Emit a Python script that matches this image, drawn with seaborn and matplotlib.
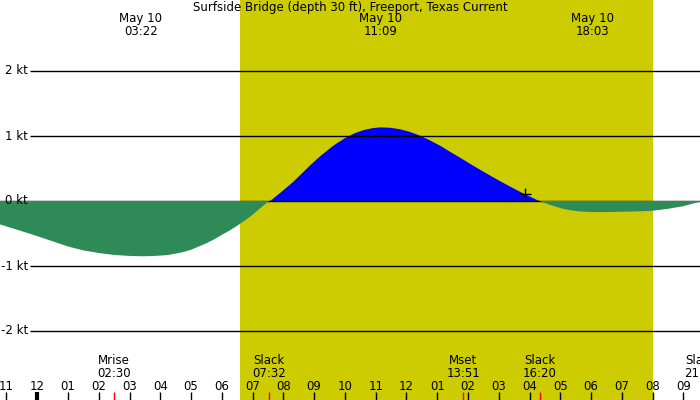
import numpy as np
import pandas as pd
import matplotlib
matplotlib.use('Agg')
import matplotlib.pyplot as plt
import matplotlib.transforms as mtransforms
import seaborn as sns

# 시간(시) / 유속(kt) - 그림에서 읽은 값
hours = [-1.21, -0.6, 0.0, 0.5, 1.0, 1.5, 2.0, 2.5, 3.0, 3.37, 3.7, 4.0, 4.25, 4.5, 4.75,
         5.0, 5.25, 5.5, 5.75, 6.0, 6.25, 6.5, 6.75, 7.0, 7.25, 7.53, 7.8, 8.0, 8.3, 8.54,
         8.86, 9.19, 9.61, 10.0, 10.3, 10.6, 10.9, 11.14, 11.45, 11.79, 12.1, 12.44, 12.75,
         13.09, 13.4, 13.74, 14.05, 14.39, 14.7, 15.0, 15.45, 15.84, 16.33, 16.6, 16.8,
         17.05, 17.3, 17.6, 18.05, 18.5, 19.0, 19.5, 20.0, 20.5, 21.0, 21.54]
knots = [-0.36, -0.45, -0.54, -0.62, -0.70, -0.76, -0.80, -0.83, -0.845, -0.85, -0.848,
         -0.84, -0.83, -0.81, -0.785, -0.75, -0.70, -0.65, -0.59, -0.52, -0.455, -0.38,
         -0.30, -0.21, -0.11, 0.0, 0.10, 0.18, 0.30, 0.41, 0.56, 0.70, 0.86, 0.98, 1.05,
         1.10, 1.13, 1.14, 1.135, 1.11, 1.07, 1.01, 0.94, 0.855, 0.765, 0.67, 0.58, 0.485,
         0.40, 0.32, 0.205, 0.11, 0.0, -0.05, -0.08, -0.115, -0.14, -0.16, -0.17, -0.17,
         -0.165, -0.16, -0.15, -0.12, -0.08, -0.01]

title = 'Surfside Bridge (depth 30 ft), Freeport, Texas Current'
peak_hours = [3.367, 11.15, 18.05]
peak_labels = ['May 10\n03:22', 'May 10\n11:09', 'May 10\n18:03']
event_hours = [2.5, 7.533, 13.85, 16.333, 21.57]
event_labels = ['Mrise\n02:30', 'Slack\n07:32', 'Mset\n13:51', 'Slack\n16:20', 'Slack\n21:34']
red_ticks = [2.5, 7.533, 13.85, 16.333]
hour_ticks = list(range(-1, 22))
kt_levels = [2, 1, 0, -1, -2]
sunrise, sunset = 6.59, 20.0
now_hour, now_kt = 15.84, 0.11

df = pd.DataFrame({'hour': hours, 'kt': knots})
x_min, x_max = -1.21, 21.54

sns.set_style('white')
plt.rcParams['font.family'] = ['DejaVu Sans']
plt.rcParams['text.color'] = 'black'

fig = plt.figure(figsize=(7, 4), dpi=100)
ax = fig.add_axes([0, 0, 1, 1])
ax.set_facecolor('#c0c0c0')
ax.axvspan(sunrise, sunset, color='#cccc00', lw=0, zorder=0)

x = df['hour'].values
y = df['kt'].values
ax.fill_between(x, 0, y, where=y >= 0, interpolate=True, color='#0000ff', lw=0, zorder=1)
ax.axhline(0, color='black', lw=1, zorder=2)
ax.fill_between(x, 0, y, where=y <= 0, interpolate=True, color='#2e8b57', lw=0, zorder=3)

for k in kt_levels:
    if k != 0:
        ax.hlines(k, -0.24, x_max, color='black', lw=1, zorder=4)
    ax.text(-0.3, k, f'{k} kt', ha='right', va='center', fontsize=8.5,
            color='black', zorder=5)

sns.scatterplot(x=[now_hour], y=[now_kt], marker='+', s=70, color='black',
                linewidth=1, ax=ax, zorder=6)

ax.set_xlim(x_min, x_max)
ax.set_ylim(-199 / 65, 201 / 65)
ax.axis('off')

trans = mtransforms.blended_transform_factory(ax.transData, ax.transAxes)
ax.text((x_min + x_max) / 2, 1 - 7 / 400, title, transform=trans, ha='center',
        va='center', fontsize=8.5, color='black')
for h, lab in zip(peak_hours, peak_labels):
    ax.text(h, 1 - 25 / 400, lab, transform=trans, ha='center', va='center',
            fontsize=8.5, linespacing=0.95, color='black')
for h, lab in zip(event_hours, event_labels):
    ax.text(h, 1 - 367 / 400, lab, transform=trans, ha='center', va='center',
            fontsize=8.5, linespacing=0.95, color='black')

for h in hour_ticks:
    lab = '%02d' % (12 if h % 12 == 0 else h % 12)
    ax.text(h, 1 - 386 / 400, lab, transform=trans, ha='center', va='center',
            fontsize=8.5, color='black')
    ax.plot([h, h], [0, 8 / 400], transform=trans, color='black',
            lw=3 if h % 24 == 0 else 1, solid_capstyle='butt', zorder=7)
for h in red_ticks:
    ax.plot([h, h], [0, 8 / 400], transform=trans, color='red', lw=1,
            solid_capstyle='butt', zorder=7)

fig.savefig('out.png', dpi=100)
